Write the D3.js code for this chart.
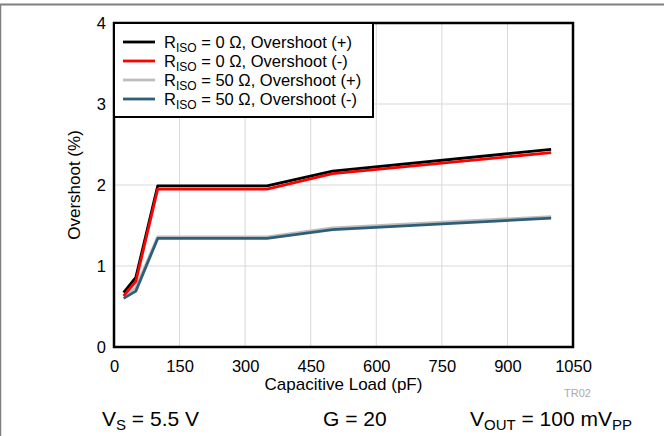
<!DOCTYPE html>
<meta charset="utf-8">
<style>
body { margin: 0; background: #fff; font-family: "Liberation Sans", Arial, sans-serif; }
.grid line { stroke: #d9d9d9; stroke-width: 1px; }
.tick text { font-size: 16.5px; fill: #000; font-family: "Liberation Sans", Arial, sans-serif; }
</style>
<body></body>
<script src="https://cdn.jsdelivr.net/npm/d3@7"></script>
<script>
var loads = [22, 50, 100, 350, 500, 1000];
var seriesNames = [
  ["0", "(+)"], ["0", "(-)"], ["50", "(+)"], ["50", "(-)"]
];
var seriesColors = ["#000000", "#ff0000", "#bdbdbd", "#2f5f78"];
var r0Plus = [0.67, 0.86, 1.99, 1.99, 2.17, 2.44];
var r0Minus = [0.63, 0.81, 1.95, 1.95, 2.14, 2.40];
var r50Plus = [0.63, 0.73, 1.36, 1.36, 1.47, 1.61];
var r50Minus = [0.60, 0.69, 1.34, 1.34, 1.45, 1.59];
var xTicks = [0, 150, 300, 450, 600, 750, 900, 1050];
var yTicks = [0, 1, 2, 3, 4];

var W = 664, H = 436;
var margin = { top: 23, left: 114, right: 91, bottom: 89 };
var width = W - margin.left - margin.right;
var height = H - margin.top - margin.bottom;

var svg = d3.select("body").append("svg")
  .attr("width", W)
  .attr("height", H);

// outer frame (top and left only)
svg.append("line").attr("x1", 0).attr("x2", W).attr("y1", 4.5).attr("y2", 4.5)
  .style("stroke", "#7f7f7f").style("stroke-width", 2);
svg.append("line").attr("x1", 0.5).attr("x2", 0.5).attr("y1", 4).attr("y2", H)
  .style("stroke", "#7f7f7f").style("stroke-width", 1.5);

var g = svg.append("g")
  .attr("transform", "translate(" + margin.left + "," + margin.top + ")");

var x = d3.scaleLinear().domain([0, 1050]).range([0, width]);
var y = d3.scaleLinear().domain([0, 4]).range([height, 0]);

g.append("g").attr("class", "grid")
  .selectAll("line").data(xTicks.slice(1, -1)).enter().append("line")
  .attr("x1", function(d) { return x(d); }).attr("x2", function(d) { return x(d); })
  .attr("y1", 0).attr("y2", height);
g.append("g").attr("class", "grid")
  .selectAll("line").data(yTicks.slice(1, -1)).enter().append("line")
  .attr("y1", function(d) { return y(d); }).attr("y2", function(d) { return y(d); })
  .attr("x1", 0).attr("x2", width);

var xAxis = g.append("g")
  .attr("transform", "translate(0," + height + ")")
  .call(d3.axisBottom(x).tickValues(xTicks).tickFormat(d3.format("d")).tickSize(0).tickPadding(13));
xAxis.select(".domain").remove();

var yAxis = g.append("g")
  .call(d3.axisLeft(y).tickValues(yTicks).tickFormat(d3.format("d")).tickSize(0).tickPadding(8));
yAxis.select(".domain").remove();

var data = [r0Plus, r0Minus, r50Plus, r50Minus];
var line = d3.line()
  .x(function(d, i) { return x(loads[i]); })
  .y(function(d) { return y(d); });

[2, 3, 0, 1].forEach(function(k) {
  g.append("path")
    .datum(data[k])
    .attr("d", line)
    .style("fill", "none")
    .style("stroke", seriesColors[k])
    .style("stroke-width", 2.8)
    .style("stroke-linejoin", "round");
});

g.append("rect")
  .attr("width", width).attr("height", height)
  .style("fill", "none").style("stroke", "#000").style("stroke-width", 2.5);

// legend
var leg = g.append("g");
leg.append("rect")
  .attr("x", 0).attr("y", 0).attr("width", 259).attr("height", 94)
  .style("fill", "#fff").style("stroke", "#000").style("stroke-width", 2);
seriesNames.forEach(function(s, i) {
  var yy = 19 + i * 19;
  leg.append("line")
    .attr("x1", 9).attr("x2", 41).attr("y1", yy).attr("y2", yy)
    .style("stroke", seriesColors[i]).style("stroke-width", 2.8);
  var t = leg.append("text")
    .attr("x", 50).attr("y", yy + 6)
    .style("font-size", "16.5px");
  t.append("tspan").text("R");
  t.append("tspan").attr("dy", 4).style("font-size", "12px").text("ISO");
  t.append("tspan").attr("dy", -4).text(" = " + s[0] + " \u03a9, Overshoot " + s[1]);
});

// axis titles
g.append("text")
  .attr("x", width / 2).attr("y", height + 43)
  .attr("text-anchor", "middle")
  .style("font-size", "17px")
  .text("Capacitive Load (pF)");

g.append("text")
  .attr("transform", "translate(-34," + (height / 2) + ") rotate(-90)")
  .attr("text-anchor", "middle")
  .style("font-size", "17px")
  .text("Overshoot (%)");

g.append("text")
  .attr("x", width + 18).attr("y", height + 50)
  .attr("text-anchor", "end")
  .style("font-size", "11px")
  .style("fill", "#aaa")
  .text("TR02");

// conditions
var foot = svg.append("g").style("font-size", "21px");
var t1 = foot.append("text").attr("x", 102).attr("y", 426);
t1.append("tspan").text("V");
t1.append("tspan").attr("dy", 4).style("font-size", "15px").text("S");
t1.append("tspan").attr("dy", -4).text(" = 5.5 V");

foot.append("text").attr("x", 323).attr("y", 426).text("G = 20");

var t3 = foot.append("text").attr("x", 470).attr("y", 426);
t3.append("tspan").text("V");
t3.append("tspan").attr("dy", 4).style("font-size", "15px").text("OUT");
t3.append("tspan").attr("dy", -4).text(" = 100 mV");
t3.append("tspan").attr("dy", 4).style("font-size", "15px").text("PP");
</script>
